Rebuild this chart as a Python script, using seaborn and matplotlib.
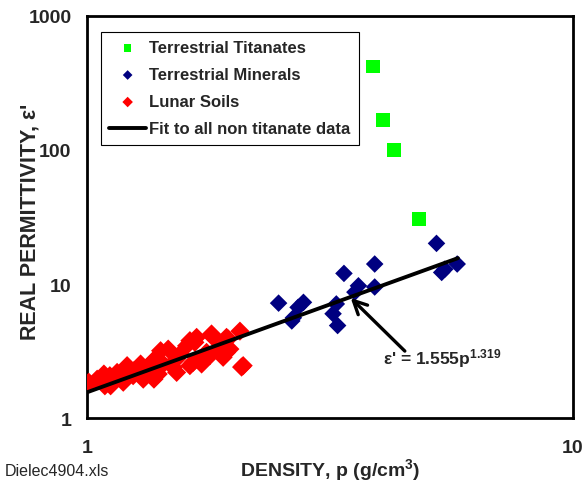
import numpy as np
import pandas as pd
import matplotlib
matplotlib.use('Agg')
import matplotlib.pyplot as plt
import seaborn as sns
from matplotlib.ticker import LogLocator, NullFormatter, FixedLocator, FixedFormatter

# Data
titanate_density = [3.88, 4.07, 4.28, 4.82]
titanate_eps = [421, 168, 100, 30.5]

mineral_density = [2.48, 2.79, 2.72, 2.66, 2.64, 3.38, 3.62, 3.91, 3.91, 3.26,
                   3.21, 3.28, 3.56, 5.24, 5.78, 5.37, 5.45]
mineral_eps = [7.2, 7.3, 6.7, 5.6, 5.3, 12.0, 9.7, 14.1, 9.5, 7.1,
               6.0, 4.9, 8.7, 20.1, 14.1, 12.2, 12.9]

lunar_density = [1.006, 1.047, 1.089, 1.115, 1.151, 1.188, 1.207, 1.245, 1.275, 1.306,
                 1.369, 1.402, 1.436, 1.470, 1.505, 1.530, 1.554, 1.604, 1.629, 1.668,
                 1.708, 1.722, 1.763, 1.819, 1.878, 1.907, 1.953, 1.969, 2.065, 2.097,
                 1.009, 1.050, 1.084, 1.119, 1.154, 1.210, 1.249, 1.290, 1.352, 1.385,
                 1.321, 1.374, 1.418, 1.629, 1.682, 1.805, 1.938, 2.081, 1.654, 1.791,
                 1.938, 1.530, 0.99]
lunar_eps = [1.79, 1.90, 1.74, 2.07, 2.13, 1.85, 2.39, 2.07, 2.25, 1.95,
             2.68, 2.13, 2.53, 3.27, 2.39, 2.19, 3.00, 3.46, 2.46, 3.67,
             2.76, 2.53, 3.09, 4.00, 3.27, 2.84, 3.89, 3.27, 4.45, 2.46,
             1.85, 1.95, 2.13, 1.74, 2.19, 2.46, 2.25, 2.53, 2.53, 2.76,
             2.07, 1.95, 3.18, 3.78, 4.00, 4.24, 4.00, 2.40, 2.60, 2.92,
             3.09, 2.76, 1.80]

# fit line endpoints (eps' = 1.555 p^1.319)
fit_density = [1.0, 5.8]
fit_eps = [1.555, 15.6]

sns.set_style('white')
plt.rcParams['font.family'] = ['Liberation Sans', 'DejaVu Sans']
plt.rcParams['mathtext.fontset'] = 'custom'
plt.rcParams['mathtext.rm'] = 'Liberation Sans:bold'
plt.rcParams['mathtext.default'] = 'rm'

fig = plt.figure(figsize=(5.87, 4.85), dpi=100)
ax = fig.add_axes([0.148, 0.136, 0.828, 0.829])

sns.scatterplot(x=titanate_density, y=titanate_eps, marker='s', s=95,
                color='#00FF00', edgecolor='none', label='Terrestrial Titanates',
                ax=ax, zorder=3)
sns.scatterplot(x=mineral_density, y=mineral_eps, marker='D', s=80,
                color='#000080', edgecolor='none', label='Terrestrial Minerals',
                ax=ax, zorder=3)
sns.scatterplot(x=lunar_density, y=lunar_eps, marker='D', s=95,
                color='#FF0000', edgecolor='none', label='Lunar Soils',
                ax=ax, zorder=3)
sns.lineplot(x=fit_density, y=fit_eps, color='black', linewidth=2.8,
             label='Fit to all non titanate data', ax=ax, zorder=4)

ax.set_xscale('log')
ax.set_yscale('log')
ax.set_xlim(1, 10)
ax.set_ylim(1, 1000)

for sp in ax.spines.values():
    sp.set_linewidth(2.0)
    sp.set_color('black')

ax.xaxis.set_major_locator(FixedLocator([1, 10]))
ax.xaxis.set_major_formatter(FixedFormatter(['1', '10']))
ax.xaxis.set_minor_locator(LogLocator(base=10, subs=np.arange(2, 10)))
ax.xaxis.set_minor_formatter(NullFormatter())
ax.yaxis.set_major_locator(FixedLocator([1, 10, 100, 1000]))
ax.yaxis.set_major_formatter(FixedFormatter(['1', '10', '100', '1000']))
ax.yaxis.set_minor_locator(LogLocator(base=10, subs=np.arange(2, 10)))
ax.yaxis.set_minor_formatter(NullFormatter())

ax.tick_params(which='major', direction='inout', length=12, width=2,
               labelsize=14, pad=5)
ax.tick_params(which='minor', direction='in', length=6, width=2)
ax.tick_params(axis='x', which='major', pad=9)
for lab in ax.get_xticklabels() + ax.get_yticklabels():
    lab.set_fontweight('bold')

ax.set_xlabel('DENSITY, p (g/cm$^{3}$)', fontsize=14, fontweight='bold')
ax.xaxis.set_label_coords(0.5, -0.127)
ax.xaxis.label.set_va('center')
ax.set_ylabel("REAL PERMITTIVITY, ε'", fontsize=15.5, fontweight='bold')
ax.yaxis.set_label_coords(-0.118, 0.49)
ax.yaxis.label.set_va('center')

leg = ax.legend(loc='upper left', bbox_to_anchor=(0.029, 0.96), fancybox=False,
                frameon=True, edgecolor='black', framealpha=1,
                prop={'weight': 'bold', 'size': 12}, borderpad=0.5,
                labelspacing=0.72, handlelength=2.2, handletextpad=0.2,
                markerscale=0.55, borderaxespad=0)
leg.get_frame().set_linewidth(0.8)

ax.annotate('', xy=(3.49, 7.87), xytext=(4.51, 3.16),
            arrowprops=dict(arrowstyle='->', color='black', lw=2.4,
                            shrinkA=0, shrinkB=0, mutation_scale=24),
            zorder=5)
ax.text(4.06, 2.85, r"ε' = 1.555p$^{1.319}$", fontsize=12.5, fontweight='bold',
        ha='left', va='center', zorder=5)

fig.text(0.008, 0.012, 'Dielec4904.xls', fontsize=11.5, ha='left', va='bottom')

fig.savefig('out.png', dpi=100)
